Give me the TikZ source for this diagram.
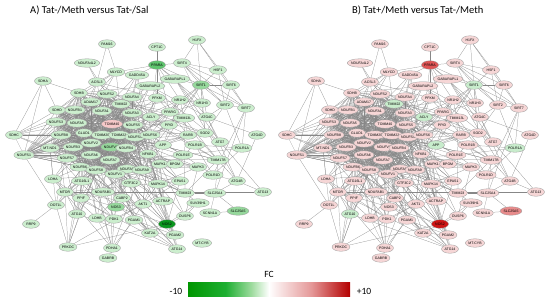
\documentclass[tikz,border=0pt]{standalone}
\usepackage{fontspec}
\setmainfont{Carlito}
\newfontfamily\nodefont{Liberation Sans}
\usetikzlibrary{shapes.geometric}
\pgfdeclarelayer{edges}
\pgfsetlayers{edges,main}
\definecolor{gA}{RGB}{204,238,206}
\definecolor{gM}{RGB}{150,216,156}
\definecolor{gS}{RGB}{95,196,110}
\definecolor{gD}{RGB}{10,150,30}
\definecolor{gP}{RGB}{246,200,200}
\definecolor{pB}{RGB}{246,214,214}
\definecolor{pS}{RGB}{222,85,85}
\definecolor{pM}{RGB}{232,140,140}
\definecolor{pD}{RGB}{205,20,20}
\definecolor{gB}{RGB}{200,236,204}
\definecolor{edgec}{RGB}{135,135,135}
\definecolor{cbG}{RGB}{0,150,0}
\definecolor{cbG2}{RGB}{30,175,50}
\definecolor{cbG3}{RGB}{160,220,160}
\definecolor{cbR2}{RGB}{228,150,150}
\definecolor{cbR}{RGB}{180,0,0}
\tikzset{
  gnode/.style={ellipse, draw=black!40, line width=0.3pt, inner sep=0.2pt,
    minimum height=8.5pt, minimum width=17pt, text=black,
    font=\nodefont\fontsize{3.5}{3.7}\selectfont},
  lnk/.style={draw=edgec, line width=0.22pt},
  ttl/.style={font=\fontsize{10.5}{12}\selectfont, anchor=west, inner sep=0pt},
  cbl/.style={font=\fontsize{9.5}{11}\selectfont, inner sep=0pt}
}
\def\corelist{sdd,nb1,na1,na3,ns3,na5,cox,ns5,nb8,clu,tom,tim,nd1,ns6,nv2,mtn,nb3,nvd,nb4,ns7,na6,na7,nb6,ns8,na8,na9,nv1,ns2,na4,adm,tm2,sdb}
\def\perilist{ldha,a16,nab,cab,gtf,ppif,mtor,pdk,nos3,akt,mk1,mk2,nfk,app,acl,ppg,pfk,ppid,tm23,tmb,eps,bpg,act,gb2,gad,acs,mly,sod,rarb,ldhb,a10,dot,pgm,nos2,kat,pg2,prk,pdh,a14,tml,nr2,p1e,mk3}
\newcommand\drawpanel[1]{%
  \foreach \nm/\x/\y/\lab/\ca/\cb in {
    pam/107/44/PAM16/gA/pB, cpt/157/47/CPT1C/gA/pB, hfx/197/40/H1FX/gA/pB,
    nla/87/63/NDUFA4L2/gA/pB, ppa/157/65/PPARA/gS/pS, sr4/182/63/SIRT4/gA/pB,
    hsf/218/70/HSF1/gA/pB, mly/116/72/MLYCD/gA/pB, gad/137/75/GADD45A/gA/pB,
    gb1/175/79/GABARAPL1/gA/pB, sda/43/81/SDHA/gA/pB, acs/97/82/ACSL3/gA/pB,
    gb2/150/86/GABARAPL2/gA/pB, sr1/201/85/SIRT1/gM/gB, sr6/231/85/SIRT6/gA/pB,
    sdb/79/93/SDHB/gA/pB, ns2/107/94/NDUFS2/gA/pB, na4/132/97/NDUFA4/gA/pB,
    pfk/157/98/PFKM/gA/pB, nr2/180/100/NR1H2/gA/pB, nr3/202/103/NR1H3/gA/pB,
    sr2/225/105/SIRT2/gA/pB, sr7/246/108/SIRT7/gA/pB, adm/91/102/ADAM17/gA/pB,
    tm2/121/104/TIMM22/gA/gB, sdd/57/110/SDHD/gA/pB, nb1/75/110/NDUFB1/gA/pB,
    na1/102/111/NDUFA1/gA/pB, na3/132/113/NDUFA3/gA/pB, ppg/170/112/PPARG/gA/pB,
    acl/151/117/ACLY/gA/gB, tml/184/118/TIMM13L/gA/pB, a4c/207/117/ATG4C/gA/pB,
    ns3/56/122/NDUFS3/gA/pB, na5/77/123/NDUFA5/gA/pB, cox/112/124/TOMM40/gP/pB,
    ns5/133/125/NDUFS5/gA/pB, ppid/169/125/PPID/gA/pB, nb8/61/135/NDUFB8/gA/pB,
    clu/84/133/GLUD1/gA/pB, tom/102/135/TOMM20/gA/pB, tim/119/135/TOMM22/gA/pB,
    nd1/135/137/NDUFS4/gA/pB, ns6/150/135/NDUFS6/gA/pB, rarb/188/135/RARB/gA/pB,
    sod/205/133/SOD2/gA/pB, a4d/257/135/ATG4D/gA/pB, a7/220/142/ATG7/gA/pB,
    sdc/14/135/SDHC/gA/pB, nv2/91/143/NDUFV2/gA/pB, app/163/145/APP/gA/gB,
    pf/195/145/POLR1B/gA/pB, p1a/242/148/POLR1A/gA/gB, mtn/50/148/MT-ND1/gA/pB,
    nb3/73/147/NDUFB3/gA/pB, nvd/111/147/NDUFV3/gM/pB, nb4/126/148/NDUFB4/gA/pB,
    nfk/148/154/NFKB1/gA/pB, ns1/24/155/NDUFS1/gA/pB, ns7/67/158/NDUFS7/gA/pB,
    na6/91/155/NDUFA6/gA/pB, na7/110/160/NDUFA7/gA/pB, p1e/183/155/POLR1E/gA/pB,
    tmb/218/160/TIMM17B/gA/pB, nb6/80/167/NDUFB6/gA/pB, ns8/96/170/NDUFS8/gA/pB,
    na8/127/169/NDUFA8/gA/pB, na9/142/170/NDUFA9/gA/pB, mk1/160/164/MAPK1/gA/pB,
    bpg/175/164/BPGM/gA/pB, mk3/198/167/MAPK3/gA/pB, nv1/115/174/NDUFV1/gA/pB,
    p1d/213/175/POLR1D/gA/pB, ldha/53/179/LDHA/gA/pB, a16/82/181/ATG16L1/gA/pB,
    gtf/131/183/GTF3C2/gA/pB, mk2/158/184/MAPK14/gA/pB, eps/180/181/EPAS1/gA/pB,
    a4b/237/181/ATG4B/gA/pB, mtor/65/192/MTOR/gA/pB, nab/103/192/NDUFAB1/gA/pB,
    tm23/185/193/TIMM23/gA/pB, s4/215/193/SLC25A4/gA/pB, a13/263/192/ATG13/gA/pB,
    cab/122/198/CABP2/gA/pB, ppif/81/198/PPIF/gA/pB, act/163/201/ACTRAP/gA/pB,
    sv/198/203/SUV39H1/gA/pB, akt/143/204/AKT1/gA/pB, dot/56/205/DOT1L/gA/pB,
    nos3/116/207/NOS3/gM/pB, s5/238/211/SLC25A5/gM/pM, sc/210/213/SCNN1A/gA/pB,
    a10/77/214/ATG10/gA/gB, dus/185/216/DUSP6/gA/pB, ldhb/97/218/LDHB/gA/pB,
    pdk/114/219/PDK1/gA/pB, pgm/134/220/PGAM1/gA/pB, nos2/167/224/NOS2/gD/pD,
    rrp/31/224/RRP9/gA/pB, kat/150/233/KAT2A/gA/pB, pg2/175/235/PGAM2/gA/pB,
    mtc/202/243/MT-CYB/gA/pB, prk/68/247/PRKDC/gA/pB, pdh/112/248/PDHA1/gA/pB,
    a14/177/249/ATG14/gA/pB, gab/108/258/GABRB/gA/pB}{%
    \ifnum#1=1\relax\edef\nodecol{\ca}\else\edef\nodecol{\cb}\fi
    \node[gnode, fill=\nodecol] (\nm) at (\x,\y) {\lab};
  }
  \begin{pgfonlayer}{edges}
    \foreach \a [count=\i] in \corelist {%
      \foreach \b [count=\j] in \corelist {%
        \ifnum\j>\i
          \pgfmathtruncatemacro\rr{mod(\i*\j+\i+2*\j,7)}%
          \ifnum\rr>0 \draw[lnk] (\a) -- (\b);\fi
        \fi
      }
    }
    \foreach \p [count=\i] in \perilist {%
      \foreach \c [count=\j] in \corelist {%
        \pgfmathtruncatemacro\rr{mod(\i*7+\j*3,8)}%
        \ifnum\rr=0 \draw[lnk] (\p) -- (\c);\fi
      }
    }
    \foreach \c in \corelist {\draw[lnk] (ns1) -- (\c);}
    \foreach \a/\b in {sdc/sdd, sdc/ns3, sdc/nb8, sdc/mtn, sdc/ns1, sdc/clu, sdc/tom,
      sdc/nb1, sdc/na5, sdc/ns7, pam/mly, pam/acs, nla/acs, nla/ns2, mly/acs, mly/ppa,
      mly/gad, cpt/ppa, hfx/sr4, hfx/hsf, hfx/sr1, hfx/sr6, ppa/sr4, ppa/gb1, ppa/pfk,
      ppa/acl, ppa/ppg, ppa/nr2, ppa/nr3, ppa/sr1, ppa/gad, sr4/sr1, sr4/sr6, sr4/hsf,
      sr4/sr2, sr4/sr7, sr4/nr3, hsf/sr1, hsf/sr2, hsf/sr7, sr1/sr6, sr1/sr2, sr1/sr7,
      sr1/nr3, sr1/nr2, sr1/ppg, sr1/a4c, sr1/gb1, sr1/sod, sr1/nfk, sr1/app, sr6/sr7,
      sr6/sr2, sr2/sr7, sr2/a4c, sr2/sod, gb1/gb2, gb1/a4c, gb1/a7, gb2/a7, gb2/a4c,
      gb2/a4b, gb1/a4b, a4c/a7, a4c/a4d, a4c/a4b, a4d/a4b, a7/a13, sr7/p1a, sr2/p1a,
      sr7/p1d, sr7/s4, sda/sdb, sda/sdc, sda/sdd, sda/ns1, sdb/acs, gad/nfk, gad/mk1,
      acs/pfk, acs/acl, pfk/acl, pfk/ppg, acl/ppg, nr2/nr3, nr2/ppg, nr3/ppg, nr2/app,
      nr3/sod, ppg/nfk, ppg/rarb, ppid/tml, tml/tim, tml/tm23, tmb/tm23, tmb/tim,
      tmb/tml, rarb/app, rarb/nr2, sod/a7, sod/app, pf/p1a, pf/p1e, pf/p1d, p1e/p1d,
      p1a/p1d, p1e/p1a, p1d/a4b, a4b/a13, a4b/s4, s4/s5, s4/sc, s4/tm23, s4/tmb, sc/s5,
      sv/dus, sv/tm23, app/mk1, app/nfk, nfk/mk1, nfk/mk2, mk1/mk2, mk1/mk3, mk3/mk2,
      mk3/nfk, eps/mk1, eps/mk2, eps/akt, eps/nos2, eps/mtor, bpg/mk1, akt/mk1, akt/mk2,
      akt/mtor, akt/nos3, akt/nos2, akt/pdk, akt/act, akt/nfk, act/mk2, act/nfk,
      act/mk1, nos2/dus, nos2/kat, nos2/pg2, nos2/nos3, nos2/mk1, nos2/sv, nos3/mtor,
      nos3/pdk, pdk/pdh, pdk/ldhb, pdk/ldha, ldhb/ldha, ldhb/pdh, mtor/a16, mtor/a10,
      mtor/a13, mtor/ppif, a16/a10, a16/a14, a14/a10, a14/mtor, prk/akt, prk/mtor,
      prk/dot, prk/nos2, pdh/ldha, pdh/pgm, pgm/pg2, pgm/kat, kat/pg2, gab/pdh, gab/akt,
      rrp/dot, dot/mtor, dot/ns1, dus/mk1, dus/mk3, dus/mk2, pg2/a14, ldha/mtn}
      {\draw[lnk] (\a) -- (\b);}
  \end{pgfonlayer}
}
\begin{document}
\begin{tikzpicture}[x=1pt,y=-1pt]
  \useasboundingbox (0,0) rectangle (550,303);
  \node[ttl] (titleA) at (30,10) {A) Tat-/Meth versus Tat-/Sal};
  \node[ttl] (titleB) at (352,10) {B) Tat+/Meth versus Tat-/Meth};
  \begin{scope}[name prefix=A-]
    \drawpanel{1}
  \end{scope}
  \begin{scope}[xshift=273pt, name prefix=B-]
    \drawpanel{2}
  \end{scope}
  % colour bar
  \shade[left color=cbG, right color=cbG2] (188,282) rectangle (226,296);
  \shade[left color=cbG2, right color=cbG3] (225.8,282) rectangle (252,296);
  \shade[left color=cbG3, right color=white] (251.8,282) rectangle (269,296);
  \shade[left color=white, right color=cbR2] (268.8,282) rectangle (312,296);
  \shade[left color=cbR2, right color=cbR] (311.8,282) rectangle (350,296);
  \node[cbl] (fc) at (269,274) {FC};
  \node[cbl] (lo) at (176,291) {-10};
  \node[cbl] (hi) at (364,291) {+10};
\end{tikzpicture}
\end{document}
